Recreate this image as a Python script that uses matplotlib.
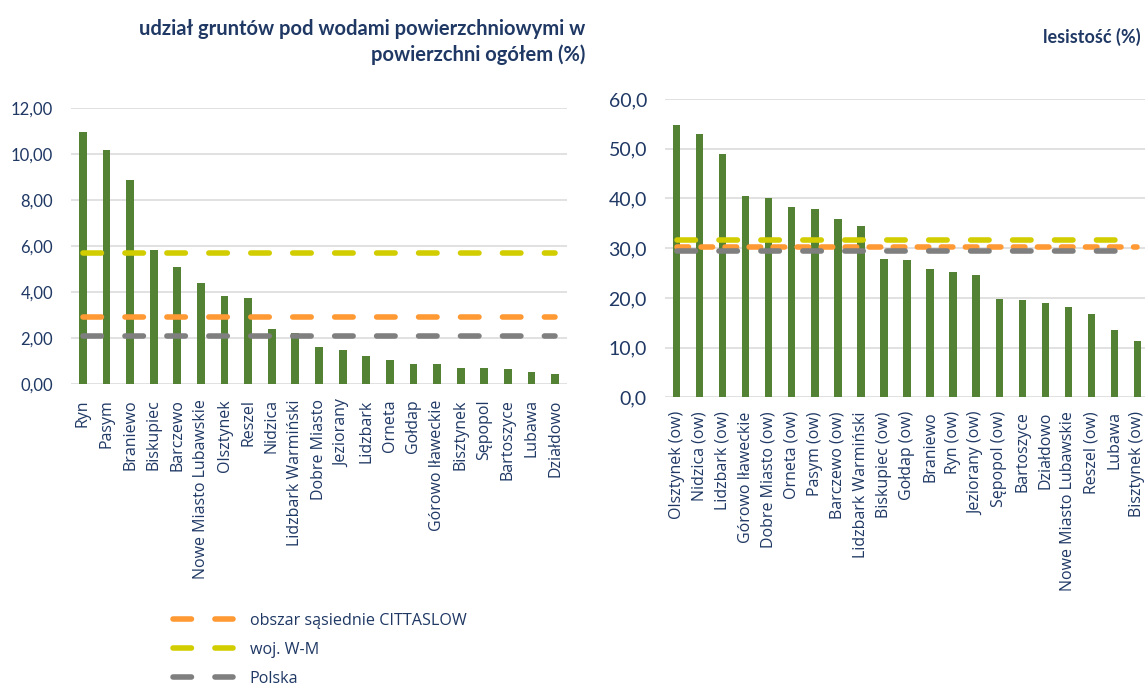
import matplotlib
matplotlib.use('Agg')
import matplotlib.pyplot as plt
from matplotlib.ticker import FixedLocator, FuncFormatter

plt.rcParams['lines.scale_dashes'] = False

# udzial gruntow pod wodami powierzchniowymi (%)
water_towns = ['Ryn', 'Pasym', 'Braniewo', 'Biskupiec', 'Barczewo', 'Nowe Miasto Lubawskie',
               'Olsztynek', 'Reszel', 'Nidzica', 'Lidzbark Warmiński', 'Dobre Miasto', 'Jeziorany',
               'Lidzbark', 'Orneta', 'Gołdap', 'Górowo Iławeckie', 'Bisztynek', 'Sępopol',
               'Bartoszyce', 'Lubawa', 'Działdowo']
water_values = [10.95, 10.19, 8.88, 5.83, 5.09, 4.39, 3.81, 3.74, 2.41, 2.20, 1.61, 1.49,
                1.22, 1.03, 0.88, 0.87, 0.70, 0.70, 0.67, 0.51, 0.42]
water_cittaslow = 2.90
water_wm = 5.70
water_polska = 2.07

# lesistosc (%)
forest_towns = ['Olsztynek (ow)', 'Nidzica (ow)', 'Lidzbark (ow)', 'Górowo Iławeckie',
                'Dobre Miasto (ow)', 'Orneta (ow)', 'Pasym (ow)', 'Barczewo (ow)',
                'Lidzbark Warmiński', 'Biskupiec (ow)', 'Gołdap (ow)', 'Braniewo', 'Ryn (ow)',
                'Jeziorany (ow)', 'Sępopol (ow)', 'Bartoszyce', 'Działdowo',
                'Nowe Miasto Lubawskie', 'Reszel (ow)', 'Lubawa', 'Bisztynek (ow)']
forest_values = [54.8, 53.0, 48.9, 40.4, 40.1, 38.2, 37.9, 35.9, 34.4, 27.8, 27.6, 25.8,
                 25.3, 24.7, 19.8, 19.6, 19.0, 18.2, 16.8, 13.5, 11.3]
forest_cittaslow = 30.2
forest_wm = 31.7
forest_polska = 29.5

legend_labels = ['obszar sąsiednie CITTASLOW', 'woj. W-M', 'Polska']

navy = '#1f3864'
green = '#548235'
orange = '#ff9933'
yellow = '#d2cd00'
gray = '#7f7f7f'
grid = '#d9d9d9'

fig = plt.figure(figsize=(11.45, 6.86), dpi=100)
ax1 = fig.add_axes([0.0620, 0.4402, 0.4332, 0.4023])
ax2 = fig.add_axes([0.5808, 0.4208, 0.4227, 0.4348])


def style_axis(ax, labels, ymax, step, fmt, xfs, yfs, xpad):
    ax.set_ylim(0, ymax)
    ax.set_xlim(-0.5, 20.5)
    ax.set_xticks(range(len(labels)))
    ax.set_xticklabels(labels, rotation=90, va='top', ha='center',
                       fontsize=xfs, fontfamily='Open Sans', color=navy)
    ax.yaxis.set_major_locator(FixedLocator([i * step for i in range(int(ymax / step) + 1)]))
    ax.yaxis.set_major_formatter(FuncFormatter(lambda v, p: fmt.format(v).replace('.', ',')))
    ax.grid(axis='y', color=grid, linewidth=1.1, zorder=0)
    ax.set_axisbelow(True)
    for s in ax.spines.values():
        s.set_visible(False)
    ax.tick_params(axis='both', length=0)
    ax.tick_params(axis='y', pad=13, labelcolor=navy, labelsize=yfs)
    ax.tick_params(axis='x', pad=xpad)
    for t in ax.get_yticklabels():
        t.set_fontfamily('Lato')


# left chart
x1 = range(len(water_towns))
ax1.bar(x1, water_values, width=0.33, color=green, zorder=2)
long_dash = (0, (13.3, 16.9))
l1, = ax1.plot(x1, [water_cittaslow] * len(water_towns), color=orange, lw=4,
               linestyle=long_dash, dash_capstyle='round', zorder=3)
l2, = ax1.plot(x1, [water_wm] * len(water_towns), color=yellow, lw=4,
               linestyle=long_dash, dash_capstyle='round', zorder=3)
l3, = ax1.plot(x1, [water_polska] * len(water_towns), color=gray, lw=4,
               linestyle=long_dash, dash_capstyle='round', zorder=3)
style_axis(ax1, water_towns, 12, 2, '{:.2f}', 11.5, 12, 11)

# right chart
x2 = range(len(forest_towns))
ax2.bar(x2, forest_values, width=0.32, color=green, zorder=2)
ax2.plot(x2, [forest_cittaslow] * len(forest_towns), color=orange, lw=4,
         linestyle=(0, (8.3, 9.0)), dash_capstyle='round', zorder=3)
ax2.plot(x2, [forest_wm] * len(forest_towns), color=yellow, lw=4,
         linestyle=long_dash, dash_capstyle='round', zorder=3)
ax2.plot(x2, [forest_polska] * len(forest_towns), color=gray, lw=4,
         linestyle=long_dash, dash_capstyle='round', zorder=3)
style_axis(ax2, forest_towns, 60, 10, '{:.1f}', 11.5, 14, 10)

# titles
fig.text(585 / 1145, 1 - 42 / 686, 'udział gruntów pod wodami powierzchniowymi w\npowierzchni ogółem (%)',
         ha='right', va='center', fontsize=14.5, fontweight='bold', color=navy,
         family='Lato', linespacing=1.35)
fig.text(1141 / 1145, 1 - 37 / 686, 'lesistość (%)', ha='right', va='center',
         fontsize=13, fontweight='bold', color=navy, family='Lato')

# legend
leg = fig.legend([l1, l2, l3], legend_labels, loc='center left',
                 bbox_to_anchor=(162 / 1145, 1 - 650 / 686), frameon=False,
                 prop={'family': 'Open Sans', 'size': 11.6}, handlelength=3.7,
                 handletextpad=1.05, labelspacing=0.8, borderpad=0.2)
for t in leg.get_texts():
    t.set_color(navy)

plt.savefig('out.png', dpi=100)
